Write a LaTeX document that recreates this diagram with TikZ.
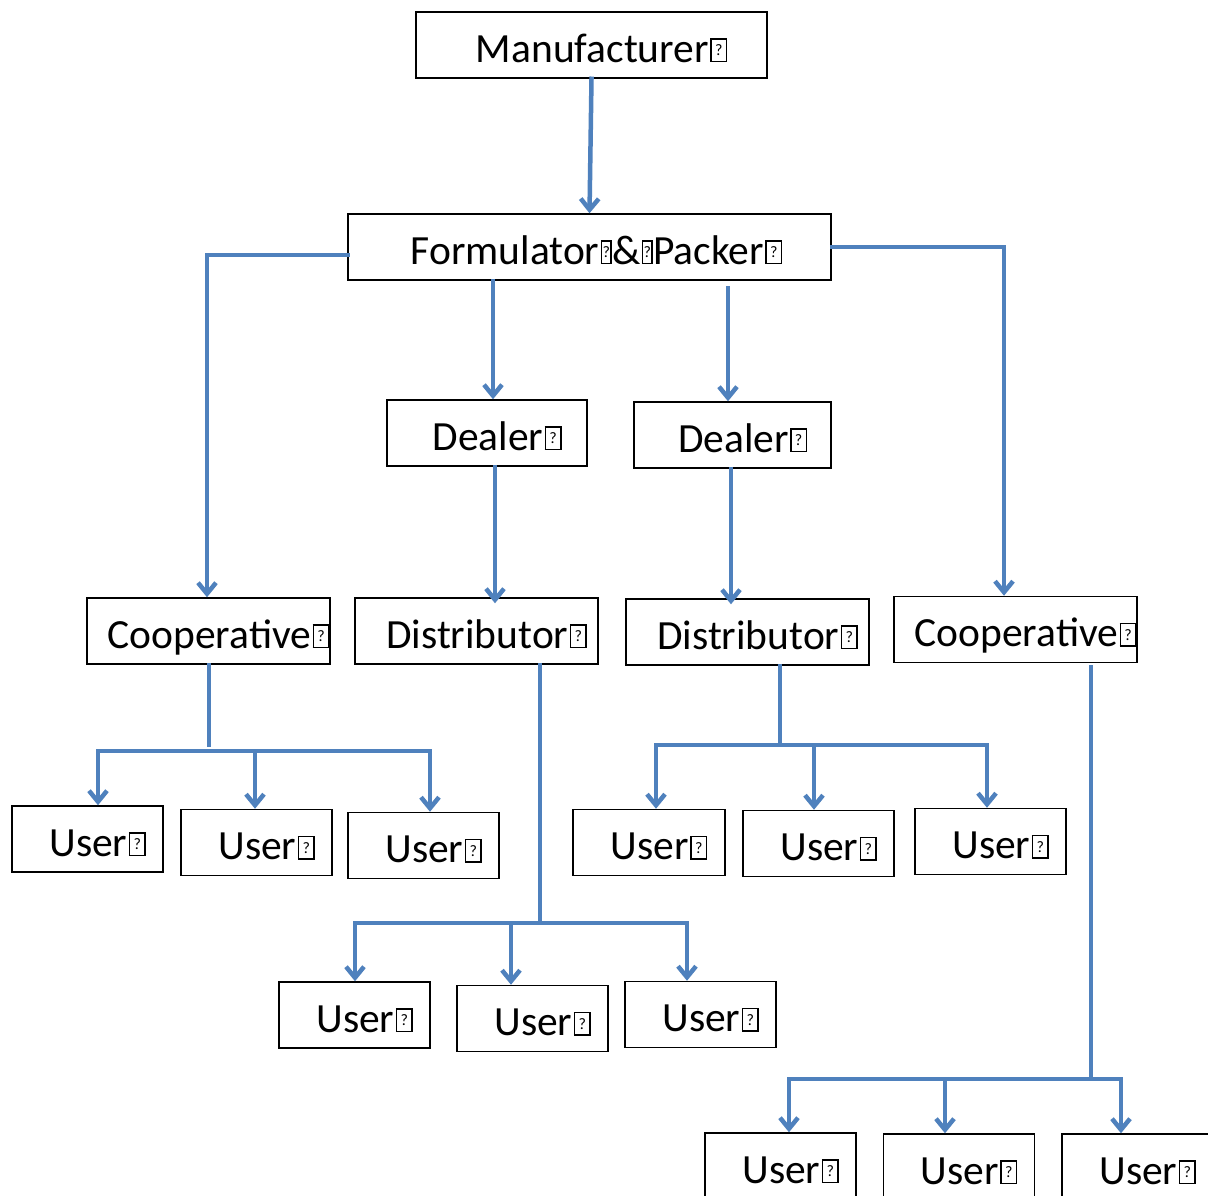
\documentclass[tikz,border=0pt]{standalone}
\usepackage{fontspec}
\setmainfont{Carlito}
\usetikzlibrary{arrows.meta,calc}
\definecolor{conn}{HTML}{4F81BD}
\newcommand{\qmw}[1]{\kern1.5pt\vbox{\hrule height 1.4pt\hbox{\vrule width 1.4pt\vbox to 21pt{\vss\hbox to #1{\hss\fontsize{16}{16}\selectfont ?\hss}\vss}\vrule width 1.4pt}\hrule height 1.4pt}}
\newcommand{\qm}{\qmw{14pt}}
\newcommand{\qs}{\qmw{8pt}\kern0.5pt}
\tikzset{
  box/.style={draw=black, line width=1.5pt, inner sep=0pt, minimum height=66pt,
    text width=#1, align=center, text height=42pt, text depth=8pt,
    font=\fontsize{41.5}{48}\selectfont},
  link/.style={draw=conn, line width=4.5pt, line cap=rect},
  arr/.style={link, -{Straight Barb[length=11pt,width=18pt]}}
}
\begin{document}
\begin{tikzpicture}[x=1pt,y=1pt]
\clip (0,0) rectangle (1208,-1195);
\fill[white] (0,0) rectangle (1208,-1195);
% nodes
\node[box=351pt] (manu)  at (591.5,-45)   {\hspace*{20pt}Manufacturer\qm};
\node[box=483pt] (form)  at (589.5,-247)  {\hspace*{14pt}Formulator\qs\&\qs Packer\qm};
\node[box=200pt] (deal1) at (487,-433)    {\hspace*{20pt}Dealer\qm};
\node[box=197pt] (deal2) at (732.5,-435)  {\hspace*{20pt}Dealer\qm};
\node[box=243pt] (coop1) at (208.5,-631)  {\hspace*{20pt}Cooperative\qm};
\node[box=243pt] (dist1) at (476.5,-631)  {\hspace*{20pt}Distributor\qm};
\node[box=243pt] (dist2) at (747.5,-632)  {\hspace*{20pt}Distributor\qm};
\node[box=243pt] (coop2) at (1015.5,-629.5) {\hspace*{20pt}Cooperative\qm};
\node[box=151pt] (u1)  at (87.5,-839)    {\hspace*{20pt}User\qm};
\node[box=151pt] (u2)  at (256.5,-842.5) {\hspace*{20pt}User\qm};
\node[box=151pt] (u3)  at (423.5,-845.5) {\hspace*{20pt}User\qm};
\node[box=152pt] (u4)  at (649,-842.5)   {\hspace*{20pt}User\qm};
\node[box=151pt] (u5)  at (818.5,-843.5) {\hspace*{20pt}User\qm};
\node[box=151pt] (u6)  at (990.5,-841.5) {\hspace*{20pt}User\qm};
\node[box=151pt] (u7)  at (354.5,-1015)  {\hspace*{20pt}User\qm};
\node[box=151pt] (u8)  at (532.5,-1018.5){\hspace*{20pt}User\qm};
\node[box=151pt] (u9)  at (700.5,-1014.5){\hspace*{20pt}User\qm};
\node[box=151pt] (u10) at (780.5,-1166)  {\hspace*{20pt}User\qm};
\node[box=151pt] (u11) at (959,-1167)    {\hspace*{20pt}User\qm};
\node[box=151pt] (u12) at (1137.5,-1167) {\hspace*{20pt}User\qm};
% top level connectors
\draw[arr] (manu.south) -- (form.north);
\draw[arr] ([yshift=-8pt]form.west) -| ([xshift=-1.5pt]coop1.north);
\draw[arr] (form.east) -| ([xshift=-11.5pt]coop2.north);
\draw[arr] ([xshift=6pt]deal1.north |- form.south) -- ([xshift=6pt]deal1.north);
\draw[arr] ($(deal2.north |- form.south)+(-4.5,-7)$) -- ([xshift=-4.5pt]deal2.north);
\draw[arr] ([xshift=8pt]deal1.south) -- ($([xshift=8pt]deal1.south |- dist1.north)+(0,-6)$);
\draw[arr] ([xshift=-1.5pt]deal2.south) -- ($([xshift=-1.5pt]deal2.south |- dist2.north)+(0,-6)$);
% cooperative 1 tree
\coordinate (b1)  at (209,-751);
\coordinate (b1l) at (98,-751);
\coordinate (b1m) at (255,-751);
\coordinate (b1r) at (430,-751);
\draw[link] (b1 |- coop1.south) -- ([yshift=6pt]b1);
\draw[link] (b1l) -- (b1r);
\draw[arr] (b1l) -- (b1l |- u1.north);
\draw[arr] (b1m) -- (b1m |- u2.north);
\draw[arr] (b1r) -- (b1r |- u3.north);
% distributor 1 tree
\coordinate (b2)  at (540,-923);
\coordinate (b2l) at (355,-923);
\coordinate (b2m) at (511,-923);
\coordinate (b2r) at (687,-923);
\draw[link] (b2 |- dist1.south) -- (b2);
\draw[link] (b2l) -- (b2r);
\draw[arr] (b2l) -- (b2l |- u7.north);
\draw[arr] (b2m) -- (b2m |- u8.north);
\draw[arr] (b2r) -- (b2r |- u9.north);
% distributor 2 tree
\coordinate (b3)  at (780,-745);
\coordinate (b3l) at (656,-745);
\coordinate (b3m) at (814,-745);
\coordinate (b3r) at (987,-745);
\draw[link] (b3 |- dist2.south) -- (b3);
\draw[link] (b3l) -- (b3r);
\draw[arr] (b3l) -- (b3l |- u4.north);
\draw[arr] (b3m) -- (b3m |- u5.north);
\draw[arr] (b3r) -- (b3r |- u6.north);
% cooperative 2 tree
\coordinate (b4)  at (1091,-1079);
\coordinate (b4l) at (789,-1079);
\coordinate (b4m) at (945,-1079);
\coordinate (b4r) at (1121,-1079);
\draw[link] ($(b4 |- coop2.south)+(0,-4)$) -- (b4);
\draw[link] (b4l) -- (b4r);
\draw[arr] (b4l) -- (b4l |- u10.north);
\draw[arr] (b4m) -- (b4m |- u11.north);
\draw[arr] (b4r) -- (b4r |- u12.north);
\end{tikzpicture}
\end{document}
